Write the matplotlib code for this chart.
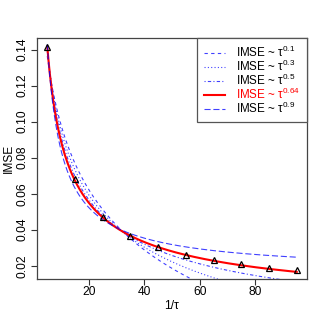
import numpy as np
from matplotlib import pyplot as plt

plt.rcParams['font.family'] = ['Liberation Sans', 'DejaVu Sans']
plt.rcParams['mathtext.fontset'] = 'custom'
plt.rcParams['mathtext.rm'] = 'Liberation Sans'
plt.rcParams['mathtext.it'] = 'Liberation Sans'
plt.rcParams['font.size'] = 8.64

# data: 1/tau and observed IMSE
inv_tau = [5, 15, 25, 35, 45, 55, 65, 75, 85, 95]
imse = [0.1415, 0.0680, 0.0468, 0.0363, 0.0302, 0.0261, 0.0232, 0.0209, 0.0187, 0.0176]

# exponents of the fitted curves IMSE ~ a + b * tau^p
powers = [0.1, 0.3, 0.5, 0.64, 0.9]
colors = ['blue', 'blue', 'blue', 'red', 'blue']
styles = [(0, (3.0, 3.0)), (0, (1.0, 2.0)), (0, (1.0, 2.0, 3.0, 2.0)), '-', (0, (5.5, 2.5))]
widths = [0.8, 0.8, 0.8, 1.5, 0.8]
n_fit = 5  # curves fitted on the first points

x = np.array(inv_tau, dtype=float)
y = np.array(imse)

fig = plt.figure(figsize=(3.27, 3.27), dpi=100)
ax = fig.add_axes([37.3 / 327, 48 / 327, (306.7 - 37.3) / 327, (279 - 38) / 327])

ax.plot(x, y, linestyle='none', marker='^', ms=4.8, mfc='none', mec='black', mew=0.9, zorder=3)

xx = np.linspace(x.min(), x.max(), 400)
handles = []
for p, c, ls, lw in zip(powers, colors, styles, widths):
    A = np.column_stack([np.ones(n_fit), x[:n_fit] ** (-p)])
    coef, *_ = np.linalg.lstsq(A, y[:n_fit], rcond=None)
    h, = ax.plot(xx, coef[0] + coef[1] * xx ** (-p), color=c, linestyle=ls, linewidth=lw,
                 alpha=0.75 if c == 'blue' else 1.0, label='IMSE ~ τ$^{%s}$' % p, zorder=2)
    handles.append(h)

xr = x.max() - x.min()
yr = y.max() - y.min()
ax.set_xlim(x.min() - 0.04 * xr, x.max() + 0.04 * xr)
ax.set_ylim(y.min() - 0.04 * yr, y.max() + 0.04 * yr)

ax.set_xticks([20, 40, 60, 80])
ax.set_yticks([0.02, 0.04, 0.06, 0.08, 0.10, 0.12, 0.14])
ax.set_yticklabels(['%.2f' % v for v in ax.get_yticks()], rotation=90, va='center', ha='center')
ax.tick_params(direction='out', length=4, width=0.8, color='#333333')
ax.tick_params(axis='x', pad=0.8)
ax.tick_params(axis='y', pad=6.3)
for s in ax.spines.values():
    s.set_color('#444444')
    s.set_linewidth(0.9)

ax.set_xlabel('1/τ', labelpad=2)
ax.set_ylabel('IMSE', labelpad=1.5)

leg = ax.legend(handles=handles, loc='upper right', borderaxespad=0, fancybox=False,
                edgecolor='#555555', framealpha=1, handlelength=1.85, handletextpad=0.95,
                labelspacing=-0.1, borderpad=0.55, fontsize=8.4)
leg.get_frame().set_linewidth(0.9)
leg.get_texts()[3].set_color('red')

plt.savefig('out.png', dpi=100)
